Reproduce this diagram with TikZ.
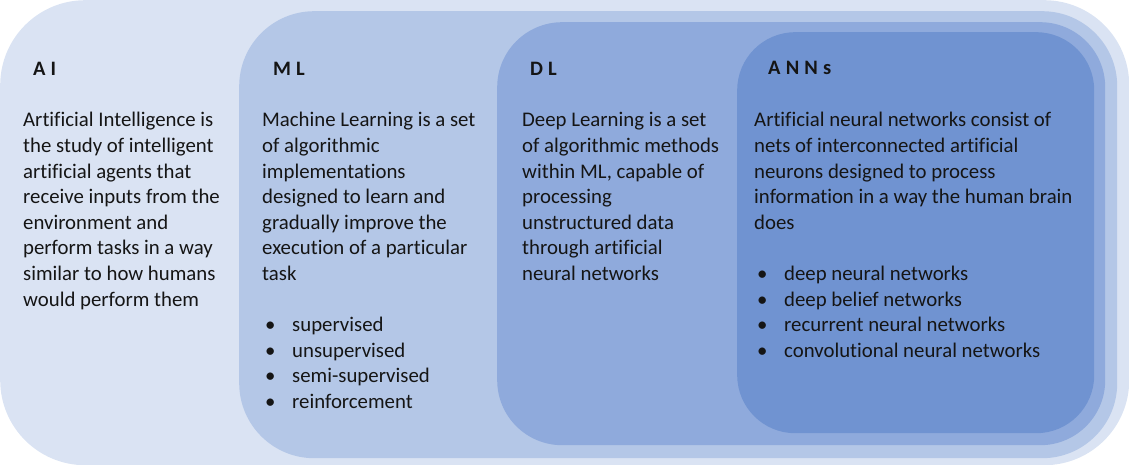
\documentclass[tikz,border=0pt]{standalone}
\usepackage{fontspec}
\setmainfont{Carlito}[Ligatures=NoCommon]
\newfontfamily\headfont[LetterSpace=25]{Carlito}
\definecolor{aiblue}{HTML}{DAE3F3}
\definecolor{mlblue}{HTML}{B4C7E7}
\definecolor{dlblue}{HTML}{8FAADC}
\definecolor{annblue}{HTML}{7093D1}
\definecolor{ink}{HTML}{151515}
% a left-aligned column whose reference point is the first line's baseline
\newcommand{\textcol}[1]{\begin{tabular}[t]{@{}l@{}}#1\end{tabular}}
\newcommand{\bulletitem}[1]{\hspace*{3pt}\makebox[27pt][l]{\textbullet}#1}
\begin{document}
\begin{tikzpicture}[x=1pt,y=-1pt,
  layer/.style={draw=none, inner sep=0pt, anchor=north west, rounded corners=#1},
  heading/.style={anchor=base west, inner sep=0pt, text=ink,
    font=\headfont\bfseries\fontsize{20.5}{24}\selectfont},
  body/.style={anchor=base west, inner sep=0pt, text=ink,
    font=\fontsize{20.8}{25.6}\selectfont}]
\useasboundingbox (0,0) rectangle (1129,465);

% nested rounded panels, outermost first
\node[layer=85pt, fill=aiblue, minimum width=1129pt, minimum height=465pt] (ai) at (0,0) {};
\node[layer=75pt, fill=mlblue, minimum width=878pt, minimum height=447pt] (ml) at (239,11) {};
\node[layer=65pt, fill=dlblue, minimum width=608pt, minimum height=423pt] (dl) at (497,22) {};
\node[layer=58pt, fill=annblue, minimum width=357pt, minimum height=401pt] (ann) at (737,32) {};

% headings
\node[heading] (aihead) at (33,76) {AI};
\node[heading] (mlhead) at (273,76) {ML};
\node[heading] (dlhead) at (530,76) {DL};
\node[heading] (annhead) at (768,75) {ANNs};

% descriptions
\node[body] (aitext) at (23,127) {\textcol{Artificial Intelligence is\\the study of intelligent\\artificial agents that\\receive inputs from the\\environment and\\perform tasks in a way\\similar to how humans\\would perform them}};

\node[body] (mltext) at (262,127) {\textcol{Machine Learning is a set\\of algorithmic\\implementations\\designed to learn and\\gradually improve the\\execution of a particular\\task\\[25.6pt]
\bulletitem{supervised}\\
\bulletitem{unsupervised}\\
\bulletitem{semi-supervised}\\
\bulletitem{reinforcement}}};

\node[body] (dltext) at (522,127) {\textcol{Deep Learning is a set\\of algorithmic methods\\within ML, capable of\\processing\\unstructured data\\through artificial\\neural networks}};

\node[body] (anntext) at (754,127) {\textcol{Artificial neural networks consist of\\nets of interconnected artificial\\neurons designed to process\\information in a way the human brain\\does\\[25.6pt]
\bulletitem{deep neural networks}\\
\bulletitem{deep belief networks}\\
\bulletitem{recurrent neural networks}\\
\bulletitem{convolutional neural networks}}};
\end{tikzpicture}
\end{document}
